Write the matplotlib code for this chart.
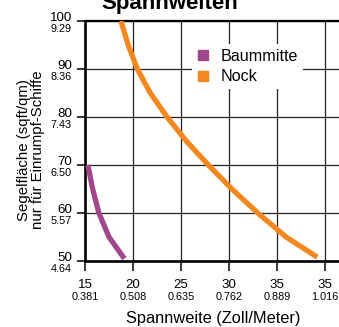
import matplotlib
matplotlib.use('Agg')
import matplotlib.pyplot as plt
from matplotlib.lines import Line2D
from matplotlib.transforms import offset_copy

plt.rcParams['font.family'] = ['Liberation Sans', 'DejaVu Sans']

""" Data read off the chart """
baum_span = [15.3, 15.8, 16.45, 17.5, 19.1]
baum_area = [70, 65, 60, 55, 50.5]
nock_span = [18.75, 19.5, 20.45, 21.8, 23.55, 25.55, 27.85, 30.3, 33.0, 35.95, 39.2]
nock_area = [100, 95, 90, 85, 80, 75, 70, 65, 60, 55, 50.8]

x_ticks = [15, 20, 25, 30, 35, 40]
x_labels = ['15', '20', '25', '30', '35', '35']
x_labels_m = ['0.381', '0.508', '0.635', '0.762', '0.889', '1.016']
y_ticks = [50, 60, 70, 80, 90, 100]
y_labels = ['50', '60', '70', '80', '90', '100']
y_labels_m = ['4.64', '5.57', '6.50', '7.43', '8.36', '9.29']

col_baum = '#a2468b'
col_nock = '#f5871f'

""" Figure """
fig = plt.figure(figsize=(3.39, 3.27), dpi=100)
ax = fig.add_axes([0.2507, 0.2018, 0.7493, 0.734])

ax.plot(baum_span, baum_area, color=col_baum, lw=3.8, solid_capstyle='butt',
        solid_joinstyle='round', zorder=3)
ax.plot(nock_span, nock_area, color=col_nock, lw=3.8, solid_capstyle='butt',
        solid_joinstyle='round', zorder=3)

ax.set_xlim(15, 41.46)
ax.set_ylim(50, 100)
ax.set_xticks(x_ticks)
ax.set_yticks(y_ticks)
ax.set_xticklabels([])
ax.set_yticklabels([])
ax.grid(True, color='#222222', lw=0.9)
ax.tick_params(axis='x', length=7.5, width=1.1, direction='out', color='black')
ax.tick_params(axis='y', length=6, width=1.1, direction='out', color='black')

ax.spines['right'].set_visible(False)
ax.spines['left'].set_linewidth(1.9)
ax.spines['bottom'].set_linewidth(1.9)
ax.spines['top'].set_linewidth(1.6)

""" Two-line tick labels """
ytr = ax.get_yaxis_transform()
for yv, big, small in zip(y_ticks, y_labels, y_labels_m):
    ax.text(0, yv, big, ha='right', va='baseline', fontsize=9.6,
            transform=offset_copy(ytr, fig=fig, x=-13, y=0, units='dots'), clip_on=False)
    ax.text(0, yv, small, ha='right', va='top', fontsize=7.8,
            transform=offset_copy(ytr, fig=fig, x=-13, y=-3, units='dots'), clip_on=False)

xtr = ax.get_xaxis_transform()
for xv, big, small in zip(x_ticks, x_labels, x_labels_m):
    ax.text(xv, 0, big, ha='center', va='top', fontsize=9.6,
            transform=offset_copy(xtr, fig=fig, x=0, y=-18, units='dots'), clip_on=False)
    ax.text(xv, 0, small, ha='center', va='top', fontsize=7.8,
            transform=offset_copy(xtr, fig=fig, x=0, y=-31, units='dots'), clip_on=False)

""" Labels """
fig.text(0.5, 1 - 9 / 327, 'Spannweiten', ha='center', va='baseline',
         fontsize=16, fontweight='bold')
fig.text(0.629, 1 - 318 / 327, 'Spannweite (Zoll/Meter)', ha='center', va='center',
         fontsize=11.8)
fig.text(31 / 339, 1 - 150 / 327, 'Segelfläche (sqft/qm)\nnur für Einrumpf-Schiffe',
         ha='center', va='center', rotation=90, multialignment='center',
         fontsize=10.8, linespacing=0.95)

""" Legend """
handles = [Line2D([], [], ls='none', marker='s', ms=7, color=col_baum),
           Line2D([], [], ls='none', marker='s', ms=7, color=col_nock)]
leg = ax.legend(handles, ['Baummitte', 'Nock'], loc='upper left',
                bbox_to_anchor=(0.42, 0.905), fontsize=11.6, frameon=True,
                fancybox=False, framealpha=1, edgecolor='none', facecolor='white',
                handlelength=0.8, handletextpad=0.7, labelspacing=0.35,
                borderpad=0.3, borderaxespad=0)
leg.set_zorder(5)

plt.savefig('out.png', dpi=100)
